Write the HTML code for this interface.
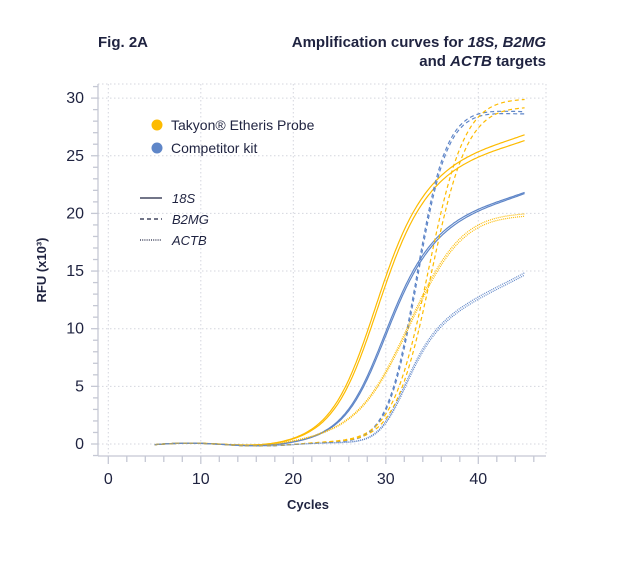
<!DOCTYPE html>
<html><head><meta charset="utf-8"><style>
body{margin:0;background:#fff;}
svg text{font-family:"Liberation Sans",sans-serif;fill:#1f2340;}
</style></head><body>
<svg id="s" width="640" height="560" viewBox="0 0 640 560" xmlns="http://www.w3.org/2000/svg">
<text x="98" y="47" font-size="15" font-weight="bold">Fig. 2A</text>
<text x="546" y="47" font-size="15" font-weight="bold" text-anchor="end">Amplification curves for <tspan font-style="italic">18S, B2MG</tspan></text>
<text x="546" y="66" font-size="15" font-weight="bold" text-anchor="end">and <tspan font-style="italic">ACTB</tspan> targets</text>
<g id="grid" stroke="#d4d6de" stroke-width="1" stroke-dasharray="1.5,2.5"></g>
<g id="axes" stroke="#c5c8d4" stroke-width="1.3"></g>
<g id="labels" font-size="16"></g>
<text x="308" y="509" font-size="13" font-weight="bold" text-anchor="middle">Cycles</text>
<text transform="translate(46,270) rotate(-90)" font-size="13" font-weight="bold" text-anchor="middle">RFU (x10³)</text>
<g id="curves" fill="none"></g>
<circle cx="157" cy="125" r="5.5" fill="#FDBB00"/>
<text x="171" y="130" font-size="14">Takyon® Etheris Probe</text>
<circle cx="157" cy="148" r="5.5" fill="#5F86C8"/>
<text x="171" y="153" font-size="14">Competitor kit</text>
<g stroke="#1f2340" stroke-width="1.2">
<line x1="140" y1="198" x2="162" y2="198"/>
<line x1="140" y1="219" x2="162" y2="219" stroke-dasharray="4,3"/>
<line x1="140" y1="240" x2="162" y2="240" stroke-dasharray="1,1.2"/>
</g>
<text x="172" y="203" font-size="13" font-style="italic">18S</text>
<text x="172" y="224" font-size="13" font-style="italic">B2MG</text>
<text x="172" y="245" font-size="13" font-style="italic">ACTB</text>
</svg>
<script>
var NS="http://www.w3.org/2000/svg";
function X(c){return 108.3+c*9.25;}
function Y(v){return 444-v*11.53;}
function el(p,t,a){var e=document.createElementNS(NS,t);for(var k in a)e.setAttribute(k,a[k]);document.getElementById(p).appendChild(e);return e;}
for(var c=0;c<=40;c+=10)el("grid","line",{x1:X(c),y1:84,x2:X(c),y2:455});
el("grid","line",{x1:546,y1:84,x2:546,y2:455});
for(var v=0;v<=30;v+=5)el("grid","line",{x1:98,y1:Y(v),x2:546,y2:Y(v)});
el("grid","line",{x1:98,y1:84,x2:546,y2:84});
el("axes","line",{x1:98,y1:84,x2:98,y2:456});
el("axes","line",{x1:98,y1:456,x2:546,y2:456});
for(var v=-1;v<=31;v++){var m=v%5==0;el("axes","line",{x1:m?91:93,y1:Y(v),x2:98,y2:Y(v)});}
for(var c=0;c<=46;c+=2){var m=c%10==0;el("axes","line",{x1:X(c),y1:456,x2:X(c),y2:m?464:462});}
for(var v=0;v<=30;v+=5){var t=el("labels","text",{x:84,y:Y(v)+5,"text-anchor":"end"});t.textContent=v;}
for(var c=0;c<=40;c+=10){var t=el("labels","text",{x:X(c),y:484,"text-anchor":"middle"});t.textContent=c;}
function lg(x,c,s){return 1/(1+Math.exp(-(x-c)/s));}
var Yc="#FDBB00",Bc="#5F86C8";
var curves=[
 [Yc,"",function(x){return (24+0.3*(x-35))*lg(x,28.5,2.4);}],
 [Yc,"",function(x){return (23.6+0.29*(x-35))*lg(x,28.7,2.4);}],
 [Bc,"",function(x){return (19+0.3*(x-35))*lg(x,29.4,2.3);}],
 [Bc,"",function(x){return (18.8+0.31*(x-35))*lg(x,29.5,2.3);}],
 [Bc,"4,3",function(x){return 29*lg(x,33.3,1.6);}],
 [Bc,"4,3",function(x){return 28.8*lg(x,33.4,1.6);}],
 [Yc,"4,3",function(x){return 30.2*lg(x,34.6,2.0);}],
 [Yc,"4,3",function(x){return 29.5*lg(x,34.9,2.0);}],
 [Yc,"1,1",function(x){return 20.4*lg(x,32.3,3);}],
 [Yc,"1,1",function(x){return 20.2*lg(x,32.4,3);}],
 [Bc,"1,1",function(x){return (10.5+0.45*(x-35))*lg(x,31.6,1.5);}],
 [Bc,"1,1",function(x){return (10.3+0.45*(x-35))*lg(x,31.7,1.5);}]
];
curves.forEach(function(cv){
 var d="";
 for(var x=5;x<=45.001;x+=0.2){
  var v=cv[2](x)+0.12*Math.sin((x-5)/15*Math.PI*2)-0.05;
  d+=(d?"L":"M")+X(x).toFixed(1)+","+Y(v).toFixed(1);
 }
 var a={d:d,stroke:cv[0],"stroke-width":1.2};
 if(cv[1])a["stroke-dasharray"]=cv[1];
 el("curves","path",a);
});
</script>
</body></html>
